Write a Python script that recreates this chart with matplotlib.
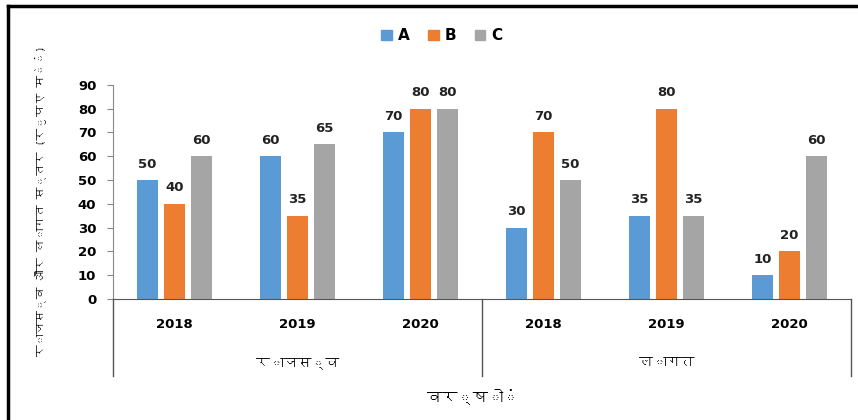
import numpy as np
import matplotlib
matplotlib.use("Agg")
import matplotlib.pyplot as plt
import matplotlib.font_manager as fm
from matplotlib.ft2font import FT2Font
from matplotlib.lines import Line2D
from matplotlib.patches import Patch

years = ["2018", "2019", "2020", "2018", "2019", "2020"]
groups = ["राजस्व", "लागत"]
series = ["A", "B", "C"]
vals_a = [50, 60, 70, 30, 35, 10]
vals_b = [40, 35, 80, 70, 80, 20]
vals_c = [60, 65, 80, 50, 35, 60]
colors = ["#5B9BD5", "#ED7D31", "#A5A5A5"]
ylabel = "राजस्व और लागत स्तर (रुपए में)"
xlabel = "वर्षों"

# find a font that can draw Devanagari, if there is one
hindi = "DejaVu Sans"
for f in fm.findSystemFonts():
    try:
        if ord("र") in FT2Font(f).get_charmap():
            hindi = fm.FontProperties(fname=f).get_name()
            fm.fontManager.addfont(f)
            break
    except Exception:
        pass

plt.rcParams['font.family'] = ['DejaVu Sans']
fig = plt.figure(figsize=(8.58, 4.2), dpi=100)
ax = fig.add_axes([0.1317, 0.288, 0.8603, 0.51])

x = np.arange(len(years))
w = 0.17
off = 0.22
for i, (v, c) in enumerate(zip([vals_a, vals_b, vals_c], colors)):
    pos = x + (i - 1) * off
    ax.bar(pos, v, width=w, color=c, zorder=2)
    for p, val in zip(pos, v):
        ax.text(p, val + 4, str(val), ha='center', va='bottom',
                fontsize=9.5, fontweight='bold', color='#222222')

ax.set_xlim(-0.5, 5.5)
ax.set_ylim(0, 90)
ax.set_yticks(range(0, 91, 10))
ax.set_yticklabels([str(t) for t in range(0, 91, 10)], fontsize=9.5, fontweight='bold')
ax.tick_params(axis='y', length=4, color='#888888', pad=8)
ax.set_xticks([])
for s in ['top', 'right']:
    ax.spines[s].set_visible(False)
ax.spines['left'].set_color('#888888')
ax.spines['bottom'].set_color('#555555')

# hierarchical axis below
tr = ax.get_xaxis_transform()
for xs in [-0.5, 2.5, 5.5]:
    ax.plot([xs, xs], [0, -0.36], transform=tr, color='#555555', lw=1, clip_on=False)
for xi, yr in zip(x, years):
    ax.text(xi, -0.12, yr, transform=tr, ha='center', va='center',
            fontsize=9.5, fontweight='bold')
for gx, g in zip([1, 4], groups):
    ax.text(gx, -0.30, g, transform=tr, ha='center', va='center',
            fontsize=10, family=[hindi, 'DejaVu Sans'])

fig.text(0.551, 0.055, xlabel, ha='center', va='center', fontsize=11,
         family=[hindi, 'DejaVu Sans'])
fig.text(0.047, 0.52, ylabel, ha='center', va='center', rotation=90,
         fontsize=8.5, family=[hindi, 'DejaVu Sans'])

handles = [Patch(color=c, label=s) for c, s in zip(colors, series)]
leg = fig.legend(handles=handles, loc='center', bbox_to_anchor=(0.515, 0.915),
                 ncol=3, frameon=False, handlelength=0.7, handleheight=0.7,
                 handletextpad=0.4, columnspacing=1.2,
                 prop={'weight': 'bold', 'size': 11})

# frame lines on the top and left of the picture
fig.add_artist(Line2D([0.0093, 1.0], [0.985, 0.985], color='black', lw=2.5))
fig.add_artist(Line2D([0.0093, 0.0093], [0.0, 0.985], color='black', lw=2.5))

fig.savefig("out.png", dpi=100)
